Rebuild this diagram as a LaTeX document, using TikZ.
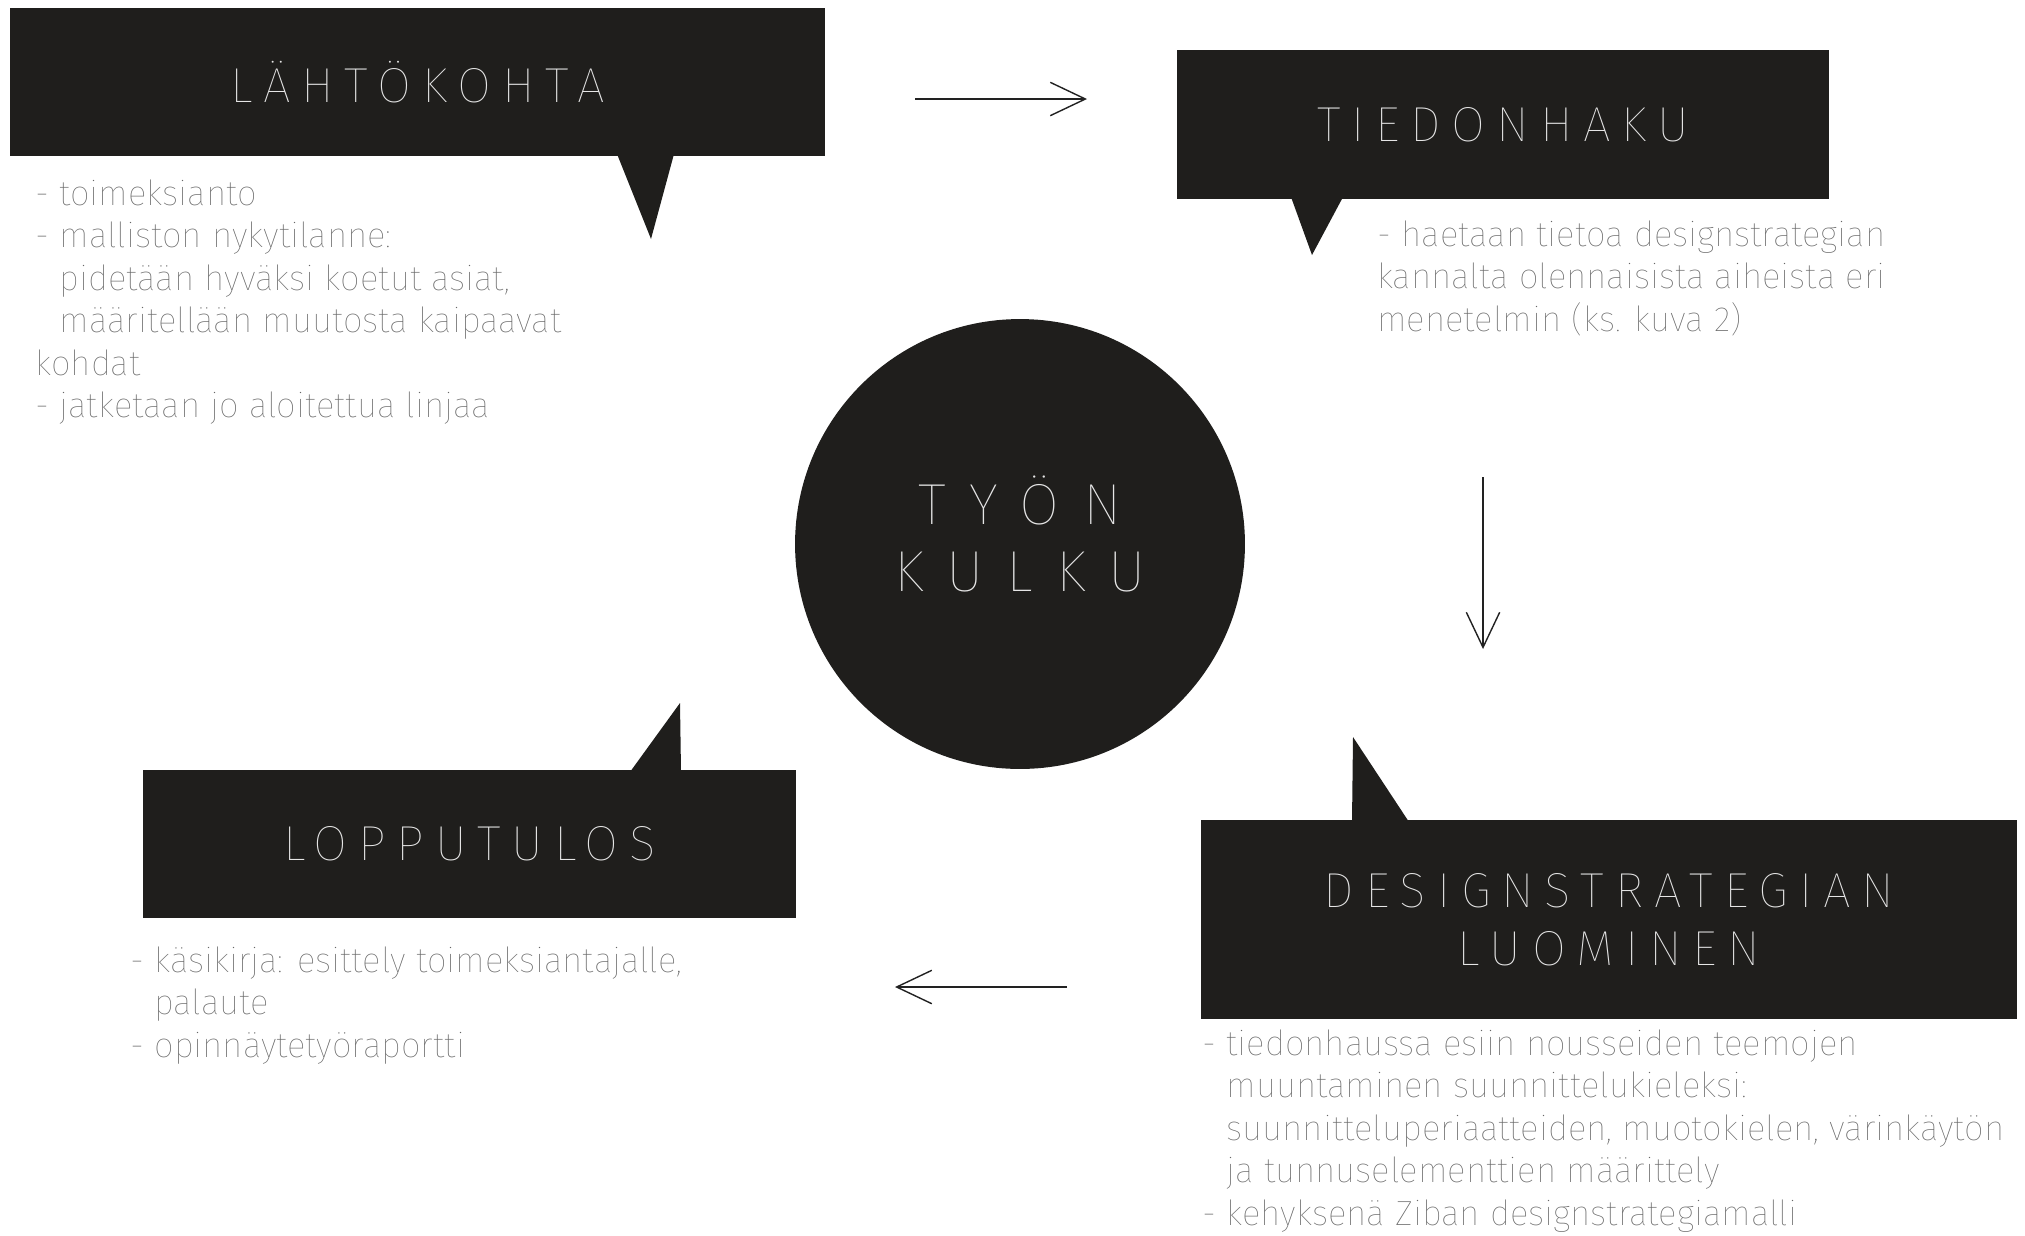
\documentclass[tikz,border=0pt]{standalone}
\usepackage{fontspec}
\usetikzlibrary{arrows.meta}
\newfontfamily\thinfont{Fira Sans Thin}
\newfontfamily\titlefont{Fira Sans Thin}[LetterSpace=22]
\newfontfamily\circfont{Fira Sans Thin}[LetterSpace=40]
\definecolor{boxfill}{HTML}{1F1E1C}
\definecolor{bodygray}{HTML}{666666}
\definecolor{titlegray}{HTML}{E6E6E6}
\definecolor{arrowc}{HTML}{222222}
\tikzset{
  bubble/.style={fill=boxfill, draw=none, inner sep=0pt, text=titlegray,
    font=\titlefont\fontsize{28}{33}\selectfont, align=center},
  bubbletail/.style={fill=boxfill, draw=none},
  bodytext/.style={anchor=north west, inner sep=0pt, text=bodygray,
    font=\thinfont\fontsize{19.8}{24.2}\selectfont, align=left},
  circtext/.style={inner sep=0pt, text=titlegray,
    font=\circfont\fontsize{33}{38}\selectfont, align=center},
  flowarrow/.style={draw=arrowc, line width=0.8pt,
    -{Straight Barb[length=20pt, width=19pt, line width=0.8pt]}},
}
\begin{document}
\begin{tikzpicture}[x=0.02cm, y=-0.02cm]
\useasboundingbox (0,0) rectangle (2025,1235);

% speech bubbles
\node[bubble, minimum width=16.3cm, minimum height=2.96cm] (lahto) at (417.5,82) {LÄHTÖKOHTA};
\fill[bubbletail] (617,154) -- (651,239) -- (674,154) -- cycle;

\node[bubble, minimum width=13.04cm, minimum height=2.98cm] (tieto) at (1503,124.5) {TIEDONHAKU};
\fill[bubbletail] (1291,197) -- (1312,255) -- (1343,197) -- cycle;

\node[bubble, minimum width=16.32cm, minimum height=3.98cm] (design) at (1609,919.5) {DESIGNSTRATEGIAN\\LUOMINEN};
\fill[bubbletail] (1352,822) -- (1353,737) -- (1409,822) -- cycle;

\node[bubble, minimum width=13.06cm, minimum height=2.96cm] (loppu) at (469.5,844) {LOPPUTULOS};
\fill[bubbletail] (630,772) -- (680,703) -- (681,772) -- cycle;

% central circle
\node[circle, fill=boxfill, minimum size=9cm, inner sep=0pt] (kulku) at (1020,544) {};
\node[circtext] (kulkutxt) at (1020,534) {TYÖN\\KULKU};

% body texts
\node[bodytext] (lahtotxt) at (35,175) {\strut- toimeksianto\\
- malliston nykytilanne:\\
\phantom{- }pidetään hyväksi koetut asiat,\\
\phantom{- }määritellään muutosta kaipaavat\\
kohdat\\
- jatketaan jo aloitettua linjaa};

\node[bodytext] (tietotxt) at (1377,216) {\strut- haetaan tietoa designstrategian\\
kannalta olennaisista aiheista eri\\
menetelmin (ks. kuva 2)};

\node[bodytext] (designtxt) at (1202,1025) {\strut- tiedonhaussa esiin nousseiden teemojen\\
\phantom{- }muuntaminen suunnittelukieleksi:\\
\phantom{- }suunnitteluperiaatteiden, muotokielen, värinkäytön\\
\phantom{- }ja tunnuselementtien määrittely\\
- kehyksenä Ziban designstrategiamalli};

\node[bodytext] (lopputxt) at (130,942) {\strut- käsikirja: esittely toimeksiantajalle,\\
\phantom{- }palaute\\
- opinnäytetyöraportti};

% flow arrows
\coordinate (a1s) at (915,99);
\coordinate (a1e) at (1087,99);
\coordinate (a2s) at (1483,477);
\coordinate (a2e) at (1483,649);
\coordinate (a3s) at (1067,987);
\coordinate (a3e) at (895,987);
\draw[flowarrow] (a1s) -- (a1e);
\draw[flowarrow] (a2s) -- (a2e);
\draw[flowarrow] (a3s) -- (a3e);
\end{tikzpicture}
\end{document}
